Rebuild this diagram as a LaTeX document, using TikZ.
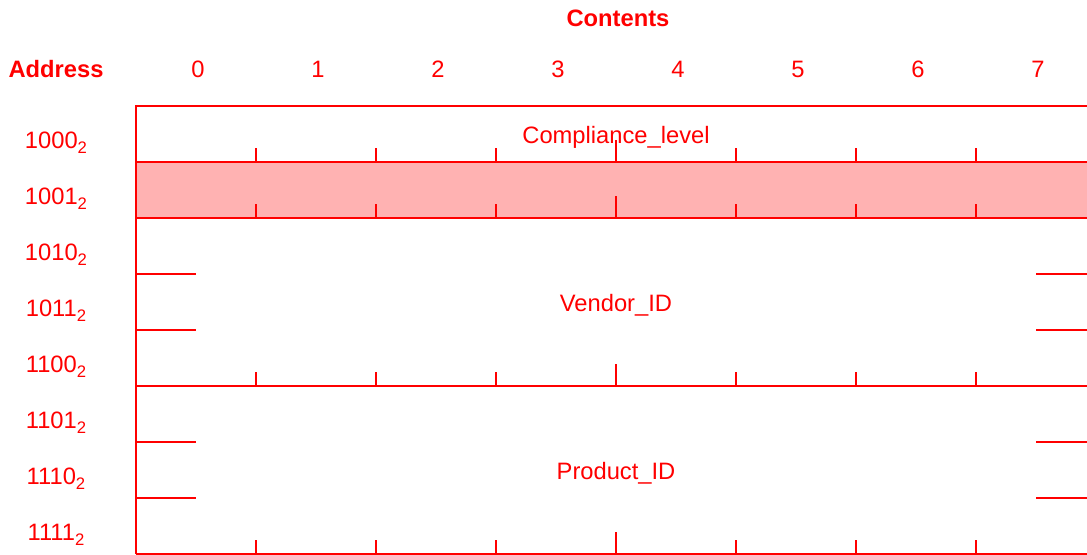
\documentclass[tikz,border=0pt]{standalone}
\usepackage{fontspec}
\setmainfont{Liberation Sans}
\usepackage{tikz}
\newcommand{\bsub}[1]{\raisebox{-3.4pt}{\fontsize{9.5}{11}\selectfont #1}}
\tikzset{reg/.style={draw=red, line width=1.15pt},
  lbl/.style={text=red, font=\fontsize{13.5}{16}\selectfont, inner sep=0pt, anchor=base},
  head/.style={lbl, font=\fontsize{13.5}{16}\selectfont\bfseries}}

\begin{document}
\begin{tikzpicture}[x=0.02cm, y=-0.02cm]       % register map
    \path[use as bounding box] (0,0) rectangle (1087,554);
    \clip (0,0) rectangle (1087,554);

    \node[head] at (618, 27) (contents) {Contents};
    \node[head] at (56, 77) (address) {Address};
    \foreach \b in {0,...,7}
        \node[lbl] at (198+120*\b, 77) (bit\b) {\b};

    \node[lbl] at (56, 148) (r8)  {1000\bsub{2}};
    \node[lbl] at (56, 204) (r9)  {1001\bsub{2}};
    \node[lbl] at (56, 260) (r10) {1010\bsub{2}};
    \node[lbl] at (56, 316) (r11) {1011\bsub{2}};
    \node[lbl] at (56, 372) (r12) {1100\bsub{2}};
    \node[lbl] at (56, 428) (r13) {1101\bsub{2}};
    \node[lbl] at (56, 484) (r14) {1110\bsub{2}};
    \node[lbl] at (56, 540) (r15) {1111\bsub{2}};

    % shaded reserved byte
    \fill[red!30] (136,162) rectangle (1096,218);

    % outline and byte borders
    \draw[reg] (136,554) -- (136,106) -- (1096,106) -- (1096,554);
    \foreach \y in {162,218,386,554}
        \draw[reg] (136,\y) -- (1096,\y);
    \foreach \y in {274,330,442,498} {
        \draw[reg] (136,\y) -- (196,\y);
        \draw[reg] (1036,\y) -- (1096,\y);
    }

    % bit ticks
    \foreach \y in {162,218,386,554}
        \foreach \x in {256,376,496,736,856,976}
            \draw[reg] (\x,\y) -- (\x,\y-14);
    \foreach \y in {162,218,386,554}
        \draw[reg] (616,\y) -- (616,\y-22);

    \node[lbl] at (616, 143) (compliance) {Compliance\_level};
    \node[lbl] at (616, 311) (vendor) {Vendor\_ID};
    \node[lbl] at (616, 479) (product) {Product\_ID};
\end{tikzpicture}
\end{document}
